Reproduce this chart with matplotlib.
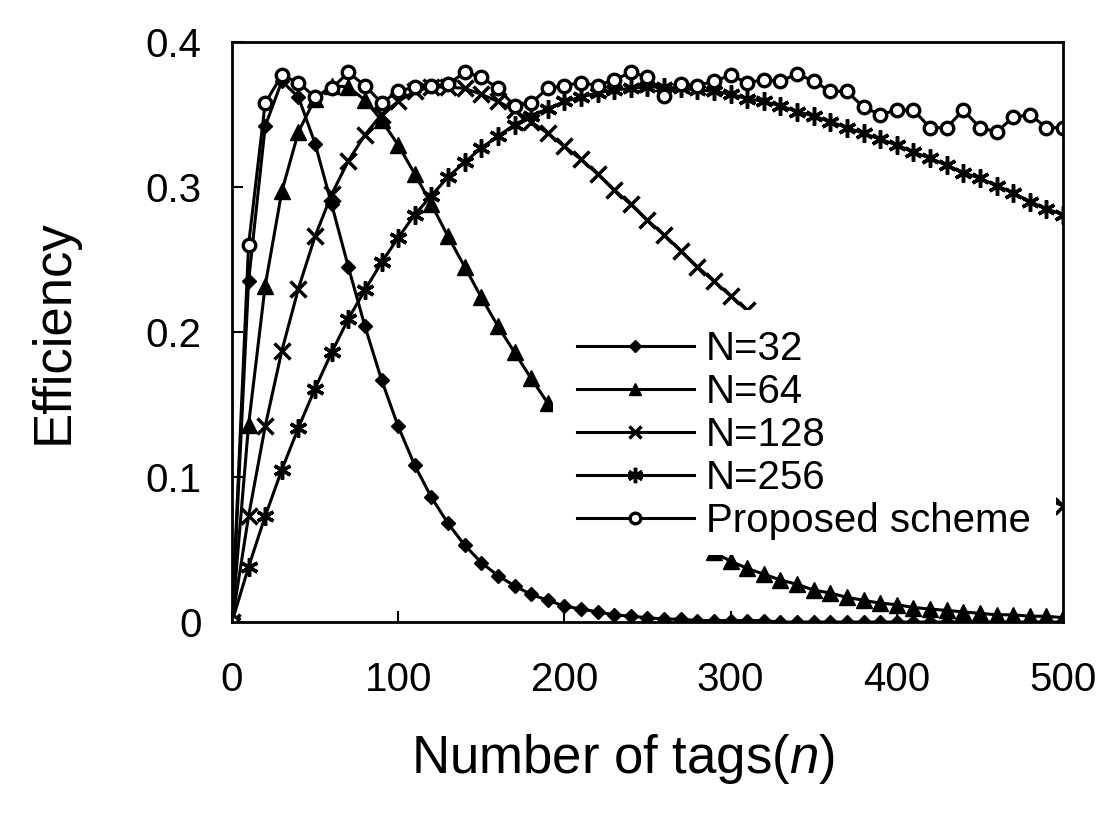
import matplotlib
matplotlib.use("Agg")
import matplotlib.pyplot as plt
from matplotlib.patches import Rectangle

plt.rcParams['font.family'] = ['Liberation Sans', 'DejaVu Sans']
plt.rcParams['mathtext.fontset'] = 'custom'
plt.rcParams['mathtext.it'] = 'Liberation Sans:italic'
plt.rcParams['mathtext.rm'] = 'Liberation Sans'

# number of tags, one marker every 10 tags
tags = list(range(0, 501, 10))

eff_n32 = [0, 0.235, 0.342, 0.373, 0.362, 0.330, 0.288, 0.245, 0.204, 0.167,
           0.135, 0.108, 0.086, 0.068, 0.053, 0.041, 0.032, 0.025, 0.019, 0.015,
           0.011, 0.009, 0.007, 0.005, 0.004, 0.003, 0.002, 0.002, 0.001, 0.001,
           0.001, 0.001, 0.001, 0, 0, 0, 0, 0, 0, 0,
           0, 0, 0, 0, 0, 0, 0, 0, 0, 0, 0]
eff_n64 = [0, 0.136, 0.232, 0.297, 0.338, 0.361, 0.370, 0.369, 0.360, 0.346,
           0.329, 0.309, 0.288, 0.266, 0.245, 0.224, 0.204, 0.186, 0.168, 0.151,
           0.136, 0.122, 0.109, 0.098, 0.087, 0.077, 0.069, 0.061, 0.054, 0.048,
           0.042, 0.037, 0.033, 0.029, 0.026, 0.022, 0.020, 0.017, 0.015, 0.013,
           0.012, 0.010, 0.009, 0.008, 0.007, 0.006, 0.005, 0.005, 0.004, 0.004,
           0.003]
eff_n128 = [0, 0.073, 0.135, 0.187, 0.230, 0.266, 0.295, 0.318, 0.336, 0.350,
            0.359, 0.366, 0.369, 0.369, 0.368, 0.364, 0.359, 0.353, 0.345, 0.337,
            0.328, 0.319, 0.309, 0.298, 0.288, 0.277, 0.267, 0.256, 0.245, 0.235,
            0.225, 0.215, 0.205, 0.195, 0.186, 0.177, 0.168, 0.160, 0.152, 0.144,
            0.137, 0.130, 0.123, 0.116, 0.110, 0.104, 0.098, 0.093, 0.089, 0.085,
            0.080]
eff_n256 = [0, 0.038, 0.073, 0.105, 0.134, 0.161, 0.186, 0.209, 0.229, 0.248,
            0.265, 0.281, 0.294, 0.307, 0.317, 0.327, 0.335, 0.343, 0.349, 0.354,
            0.359, 0.362, 0.365, 0.367, 0.368, 0.369, 0.369, 0.368, 0.367, 0.366,
            0.364, 0.361, 0.359, 0.356, 0.352, 0.349, 0.345, 0.341, 0.337, 0.333,
            0.329, 0.324, 0.320, 0.315, 0.310, 0.306, 0.301, 0.296, 0.290, 0.285,
            0.281]
eff_proposed = [0, 0.260, 0.358, 0.377, 0.372, 0.362, 0.368, 0.379, 0.370, 0.358,
                0.366, 0.369, 0.370, 0.371, 0.379, 0.376, 0.368, 0.356, 0.358, 0.368,
                0.370, 0.372, 0.370, 0.374, 0.379, 0.376, 0.363, 0.371, 0.370, 0.373,
                0.377, 0.372, 0.374, 0.373, 0.378, 0.373, 0.366, 0.366, 0.355, 0.350,
                0.353, 0.353, 0.341, 0.341, 0.353, 0.341, 0.338, 0.348, 0.350, 0.341,
                0.341]

labels = ['N=32', 'N=64', 'N=128', 'N=256', 'Proposed scheme']

fig = plt.figure(figsize=(11.13, 8.16), dpi=100)
ax = fig.add_axes([0.2084, 0.2377, 0.7467, 0.7108])

lw = 2.2
ax.plot(tags, eff_n32, color='black', lw=lw, marker='D', ms=7, label=labels[0])
ax.plot(tags, eff_n64, color='black', lw=lw, marker='^', ms=11, label=labels[1])
ax.plot(tags, eff_n128, color='black', lw=lw, marker='x', ms=11, mew=2.5, label=labels[2])
ax.plot(tags, eff_n256, color='black', lw=lw, marker=(6, 2, 0), ms=13, mew=2.5, label=labels[3])
ax.plot(tags, eff_proposed, color='black', lw=lw, marker='o', ms=9, mfc='white',
        mew=2.4, label=labels[4])

ax.set_xlim(0, 500)
ax.set_ylim(0, 0.4)
ax.set_xticks([0, 100, 200, 300, 400, 500])
ax.set_yticks([0, 0.1, 0.2, 0.3, 0.4])
ax.set_yticklabels(['0', '0.1', '0.2', '0.3', '0.4'])
ax.tick_params(axis='both', direction='in', length=8, width=1.5, labelsize=29)
ax.tick_params(axis='x', pad=28)
ax.tick_params(axis='y', pad=22)
for sp in ax.spines.values():
    sp.set_linewidth(2)
    sp.set_zorder(5)

ax.set_ylabel('Efficiency', fontsize=38)
ax.set_xlabel(r'Number of tags($\mathit{n}$)', fontsize=38)
ax.yaxis.set_label_coords(-0.185, 0.5)
ax.xaxis.set_label_coords(0.47, -0.19)

# white box behind the legend, hiding the curves under it
box = Rectangle((0.386, 0.115), 0.606, 0.423, transform=ax.transAxes,
                facecolor='white', edgecolor='none', zorder=3)
ax.add_patch(box)

leg = ax.legend(loc='upper left', bbox_to_anchor=(0.415, 0.503), frameon=False,
                fontsize=29, handlelength=2.9, handletextpad=0.3,
                labelspacing=0.125, borderpad=0, borderaxespad=0)
leg.set_zorder(4)
for h in leg.legend_handles:
    h.set_markersize(h.get_markersize() * 0.85)

fig.savefig('out.png', dpi=100)
